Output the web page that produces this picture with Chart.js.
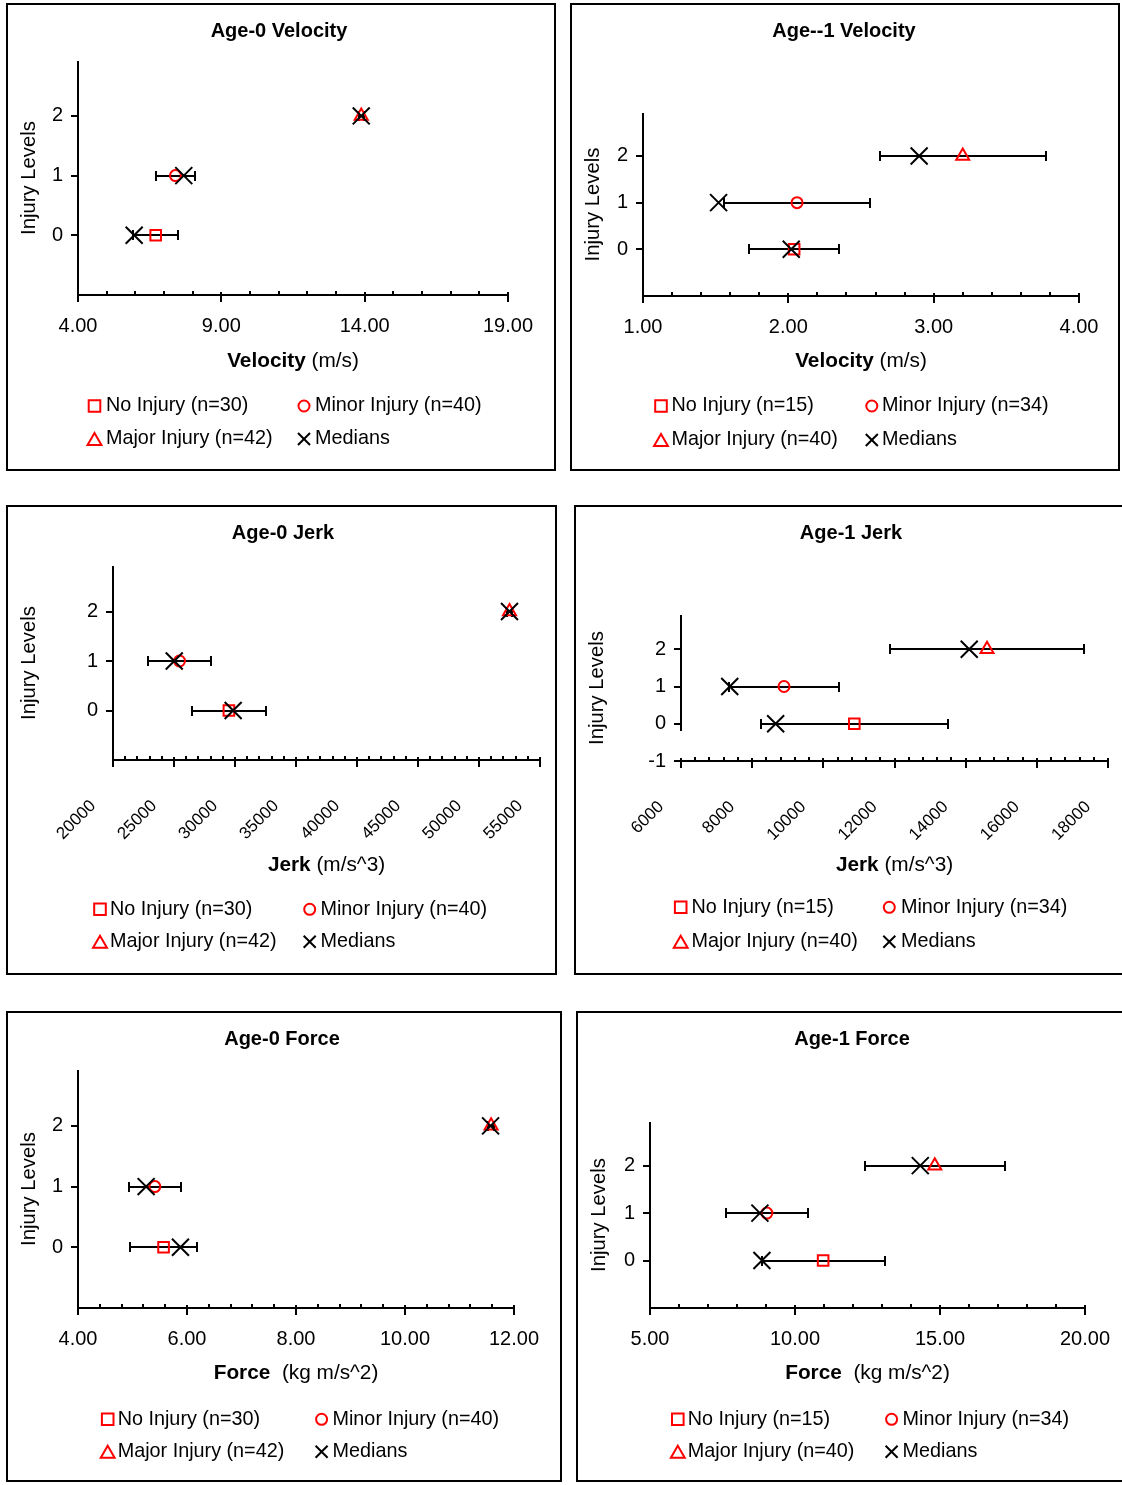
<!DOCTYPE html>
<html>
<head>
<meta charset="utf-8">
<title>Injury Levels</title>
<script src="https://cdn.jsdelivr.net/npm/chart.js@4.4.1/dist/chart.umd.min.js"></script>
<style>
    html, body { margin: 0; padding: 0; background: #fff; }
    body { width: 1122px; height: 1485px; position: relative; overflow: hidden; }
    .panel { position: absolute; box-sizing: border-box; border: 2px solid #000; background: #fff; overflow: hidden; }
    .panel canvas { display: block; }
</style>
</head>
<body>
<div class="panel"><canvas id="age0-velocity"></canvas></div>
<div class="panel"><canvas id="age1-velocity"></canvas></div>
<div class="panel"><canvas id="age0-jerk"></canvas></div>
<div class="panel"><canvas id="age1-jerk"></canvas></div>
<div class="panel"><canvas id="age0-force"></canvas></div>
<div class="panel"><canvas id="age1-force"></canvas></div>

<script>
"use strict";

// Shared
var injuryLevels = [0, 1, 2];
var groupNames = ["No Injury", "Minor Injury", "Major Injury"];
var age0Counts = [30, 40, 42];
var age1Counts = [15, 34, 40];
var levelTicks = [0, 1, 2];
var levelTicksFull = [-1, 0, 1, 2];

// Age-0 Velocity
var vel0Means = [6.71, 7.40, 13.88];
var vel0Errors = [0.79, 0.67, 0.09];
var vel0Medians = [5.96, 7.69, 13.88];
var vel0Ticks = [4, 9, 14, 19];

// Age--1 Velocity
var vel1Means = [2.04, 2.06, 3.20];
var vel1Errors = [0.31, 0.50, 0.57];
var vel1Medians = [2.02, 1.52, 2.90];
var vel1Ticks = [1, 2, 3, 4];

// Age-0 Jerk
var jerk0Means = [29500, 25450, 52500];
var jerk0Errors = [3030, 2570, 205];
var jerk0Medians = [29850, 25020, 52500];
var jerk0Ticks = [20000, 25000, 30000, 35000, 40000, 45000, 50000, 55000];

// Age-1 Jerk
var jerk1Means = [10870, 8895, 14600];
var jerk1Errors = [2620, 1548, 2720];
var jerk1Medians = [8660, 7370, 14100];
var jerk1Ticks = [6000, 8000, 10000, 12000, 14000, 16000, 18000];

// Age-0 Force
var force0Means = [5.57, 5.41, 11.58];
var force0Errors = [0.61, 0.48, 0.05];
var force0Medians = [5.88, 5.25, 11.57];
var force0Ticks = [4, 6, 8, 10, 12];

// Age-1 Force
var force1Means = [10.97, 9.03, 14.82];
var force1Errors = [2.12, 1.41, 2.42];
var force1Medians = [8.86, 8.79, 14.32];
var force1Ticks = [5, 10, 15, 20];

var fontFamily = "'Liberation Sans', Arial, Helvetica, sans-serif";
Chart.defaults.font.family = fontFamily;
Chart.defaults.color = "#000";

var markerStyles = ["rect", "circle", "triangle"];
var markerRadius = { rect: 7.5, circle: 5.5, triangle: 7.5, crossRot: 12 };
var legendRadius = { rect: 8.2, circle: 5.5, triangle: 8, crossRot: 8.5 };

function stroke(ctx, x1, y1, x2, y2) {
    ctx.beginPath();
    ctx.moveTo(x1, y1);
    ctx.lineTo(x2, y2);
    ctx.stroke();
}

function isMajor(list, v, step) {
    for (var i = 0; i < list.length; i++) {
        if (Math.abs(list[i] - v) < step / 10) return true;
    }
    return false;
}

// Axes, tick marks, error bars, title, axis title and legend
var panelDecor = {
    id: "panelDecor",
    beforeDatasetsDraw: function (chart) {
        var o = chart.options.plugins.panelDecor;
        var ctx = chart.ctx;
        var xs = chart.scales.x, ys = chart.scales.y, a = chart.chartArea;
        var left = Math.round(a.left), bottom = Math.round(a.bottom);
        ctx.save();
        ctx.strokeStyle = "#000";
        ctx.lineWidth = 2;

        var yEnd = o.yLineMin === null ? bottom : Math.round(ys.getPixelForValue(o.yLineMin));
        stroke(ctx, left, Math.round(a.top), left, yEnd);
        stroke(ctx, left - 1, bottom, Math.round(a.right) + 1, bottom);

        ys.ticks.forEach(function (t) {
            var y = Math.round(ys.getPixelForValue(t.value));
            stroke(ctx, left - 7, y, left, y);
        });

        var n = Math.round((xs.max - xs.min) / o.minorStep);
        for (var k = 1; k < n; k++) {
            var v = xs.min + k * o.minorStep;
            if (isMajor(o.majors, v, o.minorStep)) continue;
            var mx = Math.round(xs.getPixelForValue(v));
            stroke(ctx, mx, bottom - 4, mx, bottom);
        }
        xs.ticks.forEach(function (t) {
            var px = Math.round(xs.getPixelForValue(t.value));
            stroke(ctx, px, bottom - 3, px, bottom + 7);
        });

        // Error bars
        o.means.forEach(function (m, i) {
            var y = Math.round(ys.getPixelForValue(injuryLevels[i]));
            var x1 = Math.round(xs.getPixelForValue(m - o.errors[i]));
            var x2 = Math.round(xs.getPixelForValue(m + o.errors[i]));
            stroke(ctx, x1, y, x2, y);
            stroke(ctx, x1, y - 5, x1, y + 5);
            stroke(ctx, x2, y - 5, x2, y + 5);
        });
        ctx.restore();
    },
    afterDraw: function (chart) {
        var o = chart.options.plugins.panelDecor;
        var ctx = chart.ctx, a = chart.chartArea;
        ctx.save();
        ctx.fillStyle = "#000";
        ctx.textBaseline = "middle";

        // Title
        ctx.textAlign = "center";
        ctx.font = "bold 20px " + fontFamily;
        ctx.fillText(o.title, o.titleX, o.titleY);

        // X axis title, bold name + plain unit
        var bold = "bold 20.8px " + fontFamily, plain = "20.8px " + fontFamily;
        ctx.font = bold;
        var w1 = ctx.measureText(o.xTitle[0]).width;
        ctx.font = plain;
        var w2 = ctx.measureText(o.xTitle[1]).width;
        var sx = (a.left + a.right) / 2 - (w1 + w2) / 2;
        ctx.textAlign = "left";
        ctx.font = bold;
        ctx.fillText(o.xTitle[0], sx, o.xTitleY);
        ctx.font = plain;
        ctx.fillText(o.xTitle[1], sx + w1, o.xTitleY);

        // Legend, 2 x 2
        var ds = chart.data.datasets;
        var items = [ds[1], ds[2], ds[3], ds[0]];
        ctx.font = "19.8px " + fontFamily;
        items.forEach(function (d, i) {
            var col = i % 2, row = Math.floor(i / 2);
            var mx = o.legendCols[col * 2], tx = o.legendCols[col * 2 + 1];
            var y = o.legendRows[row];
            var r = legendRadius[d.pointStyle];
            ctx.strokeStyle = d.pointBorderColor;
            ctx.fillStyle = "rgba(0,0,0,0)";
            ctx.lineWidth = 2;
            Chart.helpers.drawPoint(ctx, { pointStyle: d.pointStyle, rotation: 0, radius: r, borderWidth: 2 },
                mx, y + (d.pointStyle === "triangle" ? r / 4 : 0));
            ctx.fillStyle = "#000";
            ctx.fillText(d.label, tx, y);
        });
        ctx.restore();
    }
};

function makeChart(id, s) {
    var canvas = document.getElementById(id);
    var panel = canvas.parentNode;
    panel.style.left = s.box[0] + "px";
    panel.style.top = s.box[1] + "px";
    panel.style.width = s.box[2] + "px";
    panel.style.height = s.box[3] + "px";
    var W = s.box[2] - 4, H = s.box[3] - 4;
    canvas.width = W;
    canvas.height = H;
    var ox = s.box[0] + 2, oy = s.box[1] + 2;
    var plotL = s.plot[0] - ox, plotT = s.plot[1] - oy, plotR = s.plot[2] - ox, plotB = s.plot[3] - oy;

    var datasets = [{
        label: "Medians",
        data: s.medians.map(function (v, i) { return { x: v, y: injuryLevels[i] }; }),
        pointStyle: "crossRot",
        pointRadius: markerRadius.crossRot,
        pointBorderWidth: 2,
        pointBorderColor: "#000",
        pointBackgroundColor: "rgba(0,0,0,0)",
        order: 0
    }];
    s.means.forEach(function (v, i) {
        datasets.push({
            label: groupNames[i] + " (n=" + s.counts[i] + ")",
            data: [{ x: v, y: injuryLevels[i] }],
            pointStyle: markerStyles[i],
            pointRadius: markerRadius[markerStyles[i]],
            pointBorderWidth: 2,
            pointBorderColor: "#ff0000",
            pointBackgroundColor: "rgba(0,0,0,0)",
            order: 1
        });
    });

    return new Chart(canvas.getContext("2d"), {
        type: "scatter",
        data: { datasets: datasets },
        options: {
            responsive: false,
            animation: false,
            events: [],
            layout: { padding: { left: 0, top: plotT, right: W - plotR, bottom: 0 } },
            plugins: {
                legend: { display: false },
                tooltip: { enabled: false },
                title: { display: false },
                panelDecor: {
                    title: s.title,
                    titleX: s.titlePos[0] - ox,
                    titleY: s.titlePos[1] - oy,
                    xTitle: s.xTitle,
                    xTitleY: s.xTitleY - oy,
                    legendCols: s.legendCols.map(function (v) { return v - ox; }),
                    legendRows: s.legendRows.map(function (v) { return v - oy; }),
                    means: s.means,
                    errors: s.errors,
                    majors: s.ticks,
                    minorStep: s.minorStep,
                    yLineMin: s.yLineMin === undefined ? null : s.yLineMin
                }
            },
            scales: {
                x: {
                    type: "linear",
                    position: "bottom",
                    min: s.ticks[0],
                    max: s.ticks[s.ticks.length - 1],
                    grid: { display: false, drawTicks: false },
                    border: { display: false },
                    afterBuildTicks: function (scale) {
                        scale.ticks = s.ticks.map(function (v) { return { value: v }; });
                    },
                    afterFit: function (scale) {
                        scale.height = H - plotB;
                        scale.paddingLeft = 0;
                        scale.paddingRight = 0;
                    },
                    ticks: {
                        autoSkip: false,
                        minRotation: s.rotate ? 45 : 0,
                        maxRotation: s.rotate ? 45 : 0,
                        padding: s.rotate ? 36 : 19.5,
                        labelOffset: s.rotate ? -20 : 0,
                        font: { size: s.rotate ? 17 : 20 },
                        callback: function (v) { return s.decimals ? v.toFixed(2) : String(v); }
                    }
                },
                y: {
                    type: "linear",
                    min: -1,
                    max: 2.92,
                    grid: { display: false, drawTicks: false },
                    border: { display: false },
                    afterBuildTicks: function (scale) {
                        scale.ticks = s.yTicks.map(function (v) { return { value: v }; });
                    },
                    afterFit: function (scale) {
                        scale.width = plotL;
                        scale.paddingTop = 0;
                        scale.paddingBottom = 0;
                    },
                    ticks: { padding: 15, font: { size: 20 } },
                    title: {
                        display: true,
                        text: "Injury Levels",
                        font: { size: 20.3 },
                        padding: { top: 8.8, bottom: 0 }
                    }
                }
            }
        },
        plugins: [panelDecor]
    });
}

// Age-0 Velocity - Chart
var myChart1 = makeChart("age0-velocity", {
    box: [6, 3, 550, 468], plot: [78, 61, 508, 295],
    title: "Age-0 Velocity", titlePos: [279, 31],
    xTitle: ["Velocity", " (m/s)"], xTitleY: 361.7,
    legendCols: [94.5, 106, 304, 315], legendRows: [406, 439],
    means: vel0Means, errors: vel0Errors, medians: vel0Medians, counts: age0Counts,
    ticks: vel0Ticks, minorStep: 1, decimals: true, yTicks: levelTicks
});

// Age--1 Velocity - Chart
var myChart2 = makeChart("age1-velocity", {
    box: [570, 3, 550, 468], plot: [643, 113, 1079, 296],
    title: "Age--1 Velocity", titlePos: [844, 31],
    xTitle: ["Velocity", " (m/s)"], xTitleY: 361.7,
    legendCols: [661, 671.4, 871.8, 882], legendRows: [406, 440],
    means: vel1Means, errors: vel1Errors, medians: vel1Medians, counts: age1Counts,
    ticks: vel1Ticks, minorStep: 0.2, decimals: true, yTicks: levelTicks
});

// Age-0 Jerk - Chart
var myChart3 = makeChart("age0-jerk", {
    box: [6, 505, 551, 470], plot: [113, 566, 540, 760],
    title: "Age-0 Jerk", titlePos: [283, 533.5],
    xTitle: ["Jerk", " (m/s^3)"], xTitleY: 865.7,
    legendCols: [100, 110, 309.7, 320.5], legendRows: [909.3, 941.7],
    means: jerk0Means, errors: jerk0Errors, medians: jerk0Medians, counts: age0Counts,
    ticks: jerk0Ticks, minorStep: 1000, decimals: false, rotate: true, yTicks: levelTicks
});

// Age-1 Jerk - Chart
var myChart4 = makeChart("age1-jerk", {
    box: [574, 505, 560, 470], plot: [681, 615, 1108, 761],
    title: "Age-1 Jerk", titlePos: [851, 533.5],
    xTitle: ["Jerk", " (m/s^3)"], xTitleY: 865.7,
    legendCols: [680.7, 691.4, 889.3, 900.9], legendRows: [907.3, 941.7],
    means: jerk1Means, errors: jerk1Errors, medians: jerk1Medians, counts: age1Counts,
    ticks: jerk1Ticks, minorStep: 400, decimals: false, rotate: true, yTicks: levelTicksFull,
    yLineMin: -0.2
});

// Age-0 Force - Chart
var myChart5 = makeChart("age0-force", {
    box: [6, 1011, 556, 471], plot: [78, 1070, 514, 1308],
    title: "Age-0 Force", titlePos: [282, 1039.5],
    xTitle: ["Force", "  (kg m/s^2)"], xTitleY: 1373.3,
    legendCols: [107.7, 117.7, 321.6, 332.5], legendRows: [1419.3, 1451.7],
    means: force0Means, errors: force0Errors, medians: force0Medians, counts: age0Counts,
    ticks: force0Ticks, minorStep: 0.4, decimals: true, yTicks: levelTicks
});

// Age-1 Force - Chart
var myChart6 = makeChart("age1-force", {
    box: [576, 1011, 560, 471], plot: [650, 1122, 1085, 1308],
    title: "Age-1 Force", titlePos: [852, 1039.5],
    xTitle: ["Force", "  (kg m/s^2)"], xTitleY: 1373.3,
    legendCols: [677.8, 687.8, 891.6, 902.6], legendRows: [1419.3, 1451.7],
    means: force1Means, errors: force1Errors, medians: force1Medians, counts: age1Counts,
    ticks: force1Ticks, minorStep: 1, decimals: true, yTicks: levelTicks
});
</script>
</body>
</html>
